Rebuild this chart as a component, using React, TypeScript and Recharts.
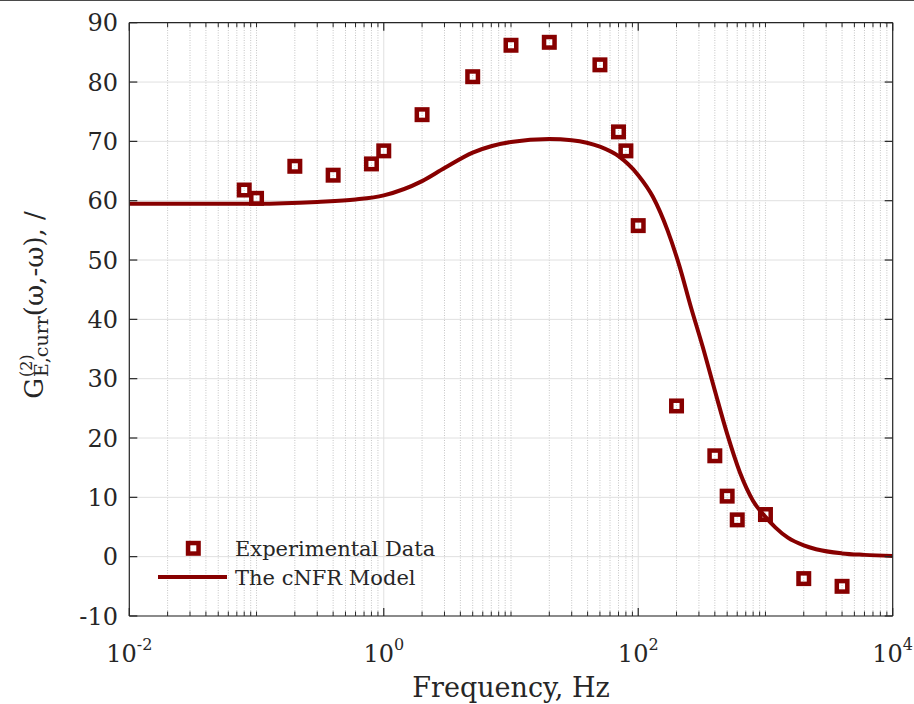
import React from 'react';
import {
  ComposedChart, Line, Scatter, XAxis, YAxis, ReferenceLine, Legend,
} from 'recharts';

// experimental points
const EXP_FREQ = [0.08, 0.1, 0.2, 0.4, 0.8, 1, 2, 5, 10, 20, 50, 70, 80, 100, 200, 400, 500, 600, 1000, 2000, 4000];
const EXP_G = [61.8, 60.4, 65.8, 64.3, 66.2, 68.4, 74.5, 80.9, 86.2, 86.7, 82.9, 71.6, 68.4, 55.8, 25.4, 17.0, 10.2, 6.2, 7.1, -3.7, -5.0];

// cNFR model curve
const MODEL_FREQ = [0.01, 0.03, 0.1, 0.3, 0.6, 1, 2, 3, 5, 10, 20, 30, 50, 70, 100, 130, 170, 210, 260, 320, 400, 500, 630, 800, 1000, 1200, 1500, 2000, 2500, 4000, 6000, 10000];
const MODEL_G = [59.5, 59.5, 59.5, 59.8, 60.2, 60.9, 63.3, 65.5, 68.1, 69.9, 70.4, 70.2, 69.1, 67.5, 64.3, 60.7, 55.0, 49.1, 42.0, 35.5, 28.0, 20.7, 14.2, 9.4, 6.7, 4.9, 3.2, 1.9, 1.25, 0.55, 0.3, 0.1];

const X_MAJOR = [0.01, 1, 100, 10000];
const X_MINOR = [0.01, 0.1, 1, 10, 100, 1000]
  .flatMap(d => [1, 2, 3, 4, 5, 6, 7, 8, 9].map(m => m * d))
  .filter(v => !X_MAJOR.includes(v));
const Y_TICKS = [-10, 0, 10, 20, 30, 40, 50, 60, 70, 80, 90];

const SERIES_EXP = 'Experimental Data';
const SERIES_MODEL = 'The cNFR Model';

const RED = '#870000';
const AX = '#262626';
const FONT = '"DejaVu Serif", serif';
const THIN = 0.01; // axes take no room; the margins place the plot box

const expData = EXP_FREQ.map((f, i) => ({ f, g: EXP_G[i] }));
const modelData = MODEL_FREQ.map((f, i) => ({ f, g: MODEL_G[i] }));

const XTick = (props: any) => {
  const { x, y, payload } = props;
  const exp = Math.round(Math.log10(payload.value));
  return (
    <text x={x} y={y} textAnchor="middle" fontFamily={FONT} fontSize={24} fill={AX}>
      <tspan>10</tspan>
      <tspan dy={-12} fontSize={16}>{exp}</tspan>
    </text>
  );
};

const YTick = (props: any) => {
  const { x, y, payload } = props;
  return (
    <text x={x} y={y} dy={8.7} textAnchor="end" fontFamily={FONT} fontSize={24} fill={AX}>
      {payload.value}
    </text>
  );
};

const NoTick = () => <g />;

const Square = (props: any) => {
  const { cx, cy } = props;
  if (cx == null || cy == null) return <g />;
  return <rect x={cx - 5.25} y={cy - 5.25} width={10.5} height={10.5} fill="none" stroke={RED} strokeWidth={4.5} />;
};

const XTitle = (props: any) => {
  const { viewBox } = props;
  return (
    <text x={viewBox.x + viewBox.width / 2} y={viewBox.y + 81} textAnchor="middle" fontFamily={FONT} fontSize={27} fill={AX}>
      Frequency, Hz
    </text>
  );
};

const YTitle = (props: any) => {
  const { viewBox } = props;
  const cx = viewBox.x - 86.3;
  const cy = 305;
  return (
    <text transform={`translate(${cx},${cy}) rotate(-90)`} textAnchor="middle" fontFamily={FONT} fontSize={26} fill={AX}>
      <tspan>G</tspan>
      <tspan dx={1} dy={-11} fontSize={16}>(2)</tspan>
      <tspan dx={-22.7} dy={16} fontSize={19}>E,curr</tspan>
      <tspan dy={-5}>(ω,-ω), /</tspan>
    </text>
  );
};

const LegendBox = () => (
  <svg width={330} height={64} style={{ display: 'block' }}>
    <rect x={43.3 - 5.25} y={18.3 - 5.25} width={10.5} height={10.5} fill="none" stroke={RED} strokeWidth={4.5} />
    <line x1={8} x2={77} y1={47} y2={47} stroke={RED} strokeWidth={4} />
    <text x={85} y={26} fontFamily={FONT} fontSize={21} fill={AX}>{SERIES_EXP}</text>
    <text x={85} y={55} fontFamily={FONT} fontSize={21} fill={AX}>{SERIES_MODEL}</text>
  </svg>
);

const logAxis = {
  type: 'number' as const,
  dataKey: 'f',
  scale: 'log' as const,
  domain: [0.01, 10000],
  allowDataOverflow: true,
  interval: 0 as const,
  height: THIN,
};

export default function App() {
  return (
    <div style={{ position: 'absolute', left: 0, top: 0, width: 914, height: 704, background: '#fff' }}>
      <div style={{ position: 'absolute', left: 0, top: 0, width: 914, height: 1, background: '#4a4a4a' }} />
      <ComposedChart
        width={914}
        height={704}
        margin={{ top: 22.7, right: 21.3, bottom: 88, left: 129.3 }}
      >
        <XAxis
          {...logAxis}
          xAxisId="b"
          ticks={X_MAJOR}
          tickSize={-8}
          tickMargin={54}
          axisLine={{ stroke: AX, strokeWidth: 1.2 }}
          tickLine={{ stroke: AX, strokeWidth: 1.2 }}
          tick={<XTick />}
          label={<XTitle />}
        />
        <XAxis
          {...logAxis}
          xAxisId="bm"
          ticks={X_MINOR}
          tickSize={-4.5}
          axisLine={false}
          tickLine={{ stroke: AX, strokeWidth: 1 }}
          tick={<NoTick />}
        />
        <XAxis
          {...logAxis}
          xAxisId="t"
          orientation="top"
          ticks={X_MAJOR}
          tickSize={-8}
          axisLine={{ stroke: AX, strokeWidth: 1.2 }}
          tickLine={{ stroke: AX, strokeWidth: 1.2 }}
          tick={<NoTick />}
        />
        <XAxis
          {...logAxis}
          xAxisId="tm"
          orientation="top"
          ticks={X_MINOR}
          tickSize={-4.5}
          axisLine={false}
          tickLine={{ stroke: AX, strokeWidth: 1 }}
          tick={<NoTick />}
        />
        <YAxis
          yAxisId="l"
          type="number"
          domain={[-10, 90]}
          allowDataOverflow
          ticks={Y_TICKS}
          interval={0}
          width={THIN}
          tickSize={-8}
          tickMargin={19.3}
          axisLine={{ stroke: AX, strokeWidth: 1.2 }}
          tickLine={{ stroke: AX, strokeWidth: 1.2 }}
          tick={<YTick />}
          label={<YTitle />}
        />
        <YAxis
          yAxisId="r"
          orientation="right"
          type="number"
          domain={[-10, 90]}
          allowDataOverflow
          ticks={Y_TICKS}
          interval={0}
          width={THIN}
          tickSize={-8}
          axisLine={{ stroke: AX, strokeWidth: 1.2 }}
          tickLine={{ stroke: AX, strokeWidth: 1.2 }}
          tick={<NoTick />}
        />

        {X_MINOR.map(v => (
          <ReferenceLine key={'mx' + v} xAxisId="b" yAxisId="l" x={v} stroke="#c4c4c4" strokeWidth={1} strokeDasharray="1 1.5" />
        ))}
        {X_MAJOR.map(v => (
          <ReferenceLine key={'Mx' + v} xAxisId="b" yAxisId="l" x={v} stroke="#e0e0e0" strokeWidth={1} />
        ))}
        {Y_TICKS.map(v => (
          <ReferenceLine key={'y' + v} xAxisId="b" yAxisId="l" y={v} stroke="#e0e0e0" strokeWidth={1} />
        ))}

        <Line
          xAxisId="b"
          yAxisId="l"
          data={modelData}
          dataKey="g"
          name={SERIES_MODEL}
          type="monotone"
          stroke={RED}
          strokeWidth={4}
          dot={false}
          activeDot={false}
          isAnimationActive={false}
        />
        <Scatter
          xAxisId="b"
          yAxisId="l"
          data={expData}
          dataKey="g"
          name={SERIES_EXP}
          shape={<Square />}
          isAnimationActive={false}
        />
        <Legend
          layout="horizontal"
          verticalAlign="middle"
          align="center"
          wrapperStyle={{ left: 150, top: 530, width: 330, height: 64 }}
          content={<LegendBox />}
        />
      </ComposedChart>
    </div>
  );
}
